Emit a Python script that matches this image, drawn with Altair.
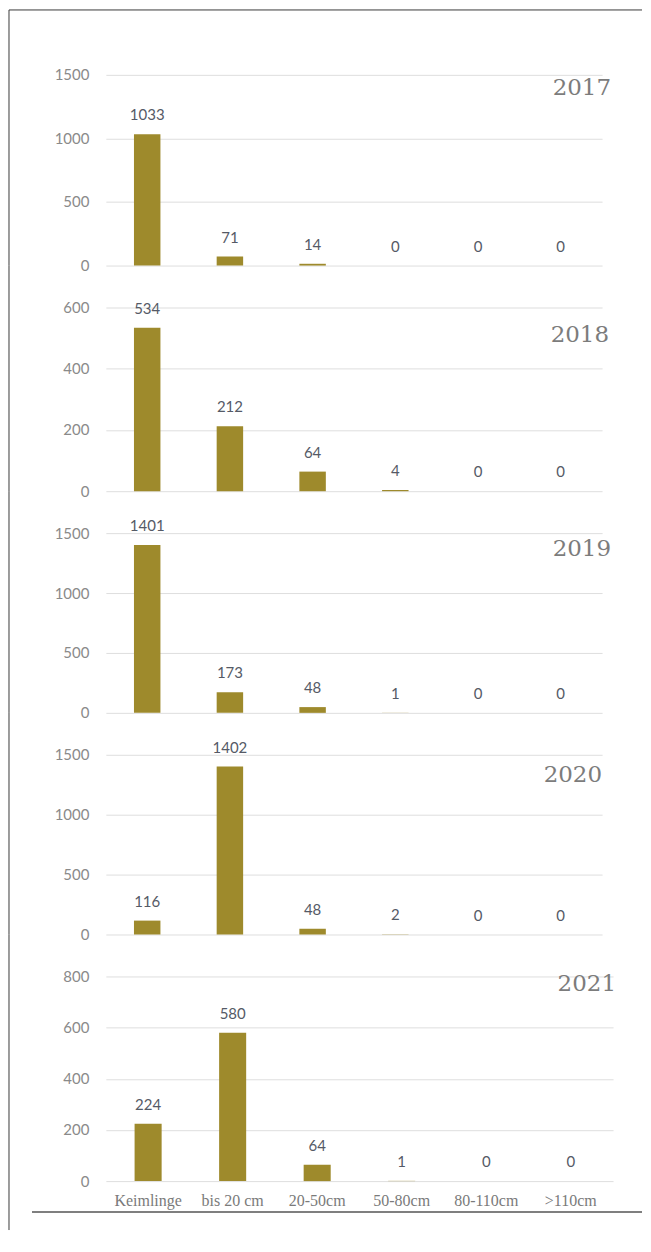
import altair as alt
import pandas as pd

categories = ["Keimlinge", "bis 20 cm", "20-50cm", "50-80cm", "80-110cm", ">110cm"]
years = ["2017", "2018", "2019", "2020", "2021"]
v2017 = [1033, 71, 14, 0, 0, 0]
v2018 = [534, 212, 64, 4, 0, 0]
v2019 = [1401, 173, 48, 1, 0, 0]
v2020 = [116, 1402, 48, 2, 0, 0]
v2021 = [224, 580, 64, 1, 0, 0]
series = [v2017, v2018, v2019, v2020, v2021]
y_max = [1500, 600, 1500, 1500, 800]
y_step = [500, 200, 500, 500, 200]

# layout (pixels)
heights = [191, 184, 180, 180, 205]
widths = [497, 497, 497, 497, 508]
year_x = [506, 504, 506, 497, 511]
year_y = [13, 28, 16, 20, 8]
SPACING = 42
TOP = 65
LEFT = 97
RIGHT_END = 537
BAR = "#9e8a2c"
FRAME = "#3a3a3a"

panels = []
for i, (yr, vals) in enumerate(zip(years, series)):
    df = pd.DataFrame({"cat": categories, "val": vals})
    last = i == len(years) - 1
    if last:
        xaxis = alt.Axis(title=None, labelAngle=0, ticks=False, domain=False,
                         labelPadding=11, labelFont="Liberation Serif",
                         labelFontSize=16, labelColor="#7a7a7a")
    else:
        xaxis = None
    xenc = alt.X("cat:N", sort=categories, axis=xaxis,
                 scale=alt.Scale(paddingInner=0.68, paddingOuter=0.34))
    yenc = alt.Y("val:Q",
                 scale=alt.Scale(domain=[0, y_max[i]], nice=False, zero=True),
                 axis=alt.Axis(title=None, values=list(range(0, y_max[i] + 1, y_step[i])),
                               format="d",
                               grid=True, gridColor="#dedede", gridWidth=1,
                               domain=False, ticks=False, labelPadding=17,
                               labelFont="Lato", labelFontSize=15,
                               labelColor="#8a8a8a"))
    base = alt.Chart(df)
    bars = base.mark_bar(color=BAR).encode(x=xenc, y=yenc)
    labels = base.mark_text(dy=-19, baseline="middle", align="center",
                            font="Lato", fontSize=15, color="#555a66").encode(
        x=alt.X("cat:N", sort=categories), y=alt.Y("val:Q"), text=alt.Text("val:Q"))
    ydf = pd.DataFrame({"year": [yr]})
    ylabel = alt.Chart(ydf).mark_text(align="right", baseline="middle",
                                      font="DejaVu Serif", fontSize=23,
                                      color="#7c7c7c").encode(
        x=alt.value(year_x[i]), y=alt.value(year_y[i]), text="year:N")
    fdf = pd.DataFrame({"k": [0]})
    top_ext = TOP if i == 0 else SPACING
    bottom_ext = 254 if last else heights[i]
    left_rule = alt.Chart(fdf).mark_rule(color=FRAME, strokeWidth=1).encode(
        x=alt.value(-LEFT), y=alt.value(-top_ext), y2=alt.value(bottom_ext))
    layers = [bars, labels, ylabel, left_rule]
    if i == 0:
        top_rule = alt.Chart(fdf).mark_rule(color=FRAME, strokeWidth=1).encode(
            x=alt.value(-LEFT), x2=alt.value(RIGHT_END), y=alt.value(-TOP))
        layers.append(top_rule)
    if last:
        bottom_rule = alt.Chart(fdf).mark_rule(color="#555555", strokeWidth=1.5).encode(
            x=alt.value(-74), x2=alt.value(RIGHT_END), y=alt.value(236))
        layers.append(bottom_rule)
    panels.append(alt.layer(*layers).properties(width=widths[i], height=heights[i]))

chart = alt.vconcat(*panels, spacing=SPACING, bounds="flush").properties(
    padding=0, background="transparent"
).configure_view(strokeWidth=0)

chart.save("out.html", embed_options={"renderer": "svg", "actions": False})
